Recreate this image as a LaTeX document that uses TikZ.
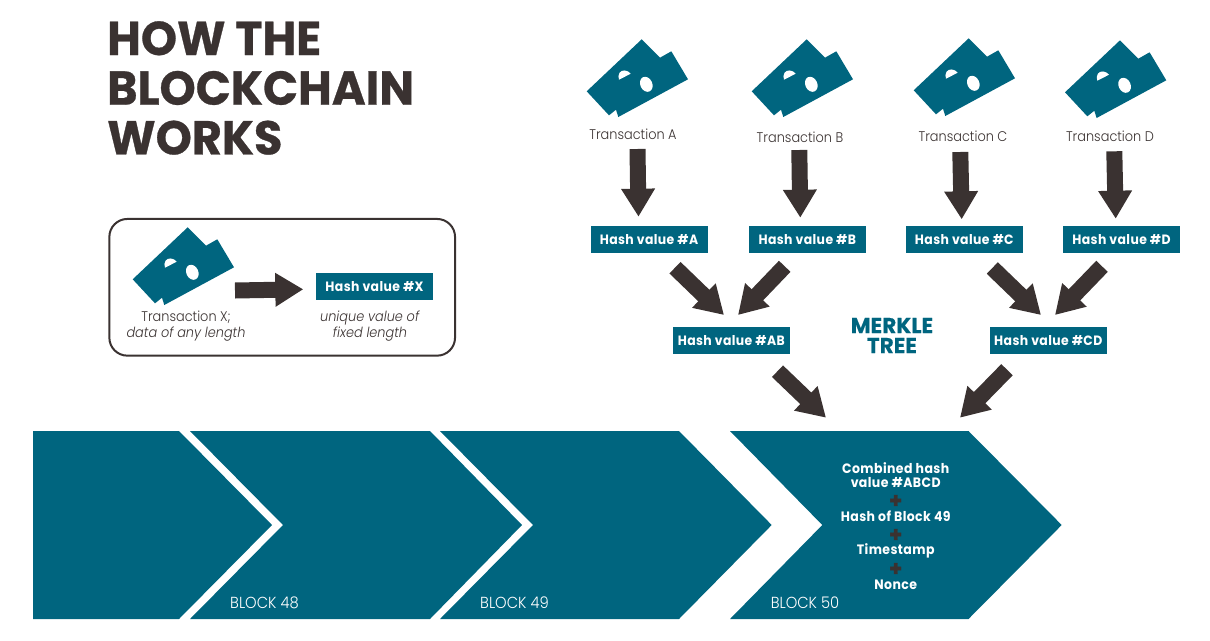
\documentclass[tikz,border=0pt]{standalone}
\usepackage{fontspec}
\usetikzlibrary{arrows.meta,calc}
\setmainfont{Poppins}[FakeStretch=0.92]
\newfontfamily\titlef{Poppins}[FakeStretch=0.97,FakeBold=0.6]
\newfontfamily\merklef{Poppins}[FakeStretch=1.0,FakeBold=0.4]
\newfontfamily\boldf{Poppins}[FakeStretch=0.92,LetterSpace=3]
\newfontfamily\plusf{Poppins}[FakeBold=1.5]
\newfontfamily\lightf{Poppins Light}[FakeStretch=0.92]
\definecolor{teal}{HTML}{00657F}
\definecolor{ink}{HTML}{3A3231}
\tikzset{
  x=1pt,y=-1pt,
  hashbox/.style={fill=teal,text=white,minimum width=117pt,minimum height=27pt,inner sep=0pt,text height=12pt,text depth=2pt,font=\fontsize{13.5}{15}\boldf\bfseries},
  label/.style={text=ink,inner sep=0pt,font=\fontsize{14}{16}\lightf,align=center},
  blockarrow/.style={draw=ink,line width=16pt,-{Triangle[length=28pt,width=32pt]}},
  blockshape/.style={fill=teal,draw=none},
  blocktext/.style={text=white,inner sep=0pt,font=\fontsize{13.6}{14}\boldf\bfseries,align=center},
  blockname/.style={text=white,inner sep=0pt,font=\fontsize{16}{16}\lightf},
  plus/.style={text=ink,inner sep=0pt,font=\fontsize{21}{21}\plusf\bfseries},
  wallet/.pic={
    \fill[teal] (55,-52) -- (73.3,-33.6) -- (84.6,-40) -- (101.3,-12) -- (31.6,25.7) -- (29.3,18.4) -- (22.3,24) -- (0,0) -- cycle;
    \fill[white] (32.3,-11.6) -- (44,-17.6) .. controls (41,-21.5) and (35,-22) .. (32.8,-18.5) .. controls (31.5,-16.5) and (31.5,-14) .. cycle;
    \fill[white,rotate around={25:(59.6,-7)}] (59.6,-7) ellipse[x radius=6,y radius=7.8];
  }
}
\begin{document}
\begin{tikzpicture}
\useasboundingbox (0,0) rectangle (1210,640);
% title
\node[anchor=north west,inner sep=0pt,text=ink,align=left,font=\fontsize{47.5}{49.7}\titlef\bfseries] (title) at (107,21) {HOW THE\\BLOCKCHAIN\\WORKS};
% legend
\node[draw=ink,line width=2pt,rounded corners=18pt,minimum width=345.7pt,minimum height=136.7pt,inner sep=0pt] (legend) at (282.2,287.3) {};
\pic at (132.7,279.3) {wallet};
\node[label] (tx) at (186,326.5) {Transaction X;\\\textit{data of any length}};
\node[hashbox] (hx) at (374.5,286.5) {Hash value \#X};
\node[label] (ux) at (370,326.5) {\textit{unique value of}\\\textit{fixed length}};
\coordinate (xs) at (235,290.5);
\draw[blockarrow] (xs) -- ($(hx.center)+(-71.2,2.8)$);
% blocks
\fill[blockshape] (33,431) -- (179,431) -- (272,525) -- (179,619) -- (33,619) -- cycle;
\fill[blockshape] (190,431) -- (430,431) -- (522,525) -- (430,619) -- (190,619) -- (283,525) -- cycle;
\fill[blockshape] (440,431) -- (679,431) -- (771.7,525) -- (679,619) -- (440,619) -- (533,525) -- cycle;
\fill[blockshape] (730,431) -- (968.5,431) -- (1061.7,525) -- (968.5,619) -- (730,619) -- (822.3,525) -- cycle;
\coordinate (b50) at (896,431);
\node[blockname] (n48) at (264.5,603) {BLOCK 48};
\node[blockname] (n49) at (514.5,603) {BLOCK 49};
\node[blockname] (n50) at (805,603) {BLOCK 50};
\node[blocktext] (c1) at (895.7,475) {Combined hash\\value \#ABCD};
\node[plus] (p1) at (895.7,501.5) {+};
\node[blocktext] (c2) at (895.7,516) {Hash of Block 49};
\node[plus] (p2) at (895.7,535.5) {+};
\node[blocktext] (c3) at (895.7,551) {Timestamp};
\node[plus] (p3) at (895.7,569.5) {+};
\node[blocktext] (c4) at (895.7,584.3) {Nonce};
% transactions
\pic at (586.7,91.3) {wallet};
\pic at (751.7,91.3) {wallet};
\pic at (913.7,90.3) {wallet};
\pic at (1065,92.3) {wallet};
\node[label] (ta) at (633,134) {Transaction A};
\node[label] (tb) at (800,137) {Transaction B};
\node[label] (tc) at (963,136) {Transaction C};
\node[label] (td) at (1110,136) {Transaction D};
\node[hashbox] (ha) at (649,239.5) {Hash value \#A};
\node[hashbox] (hb) at (807.3,239.5) {Hash value \#B};
\node[hashbox] (hc) at (964.3,239.5) {Hash value \#C};
\node[hashbox] (hd) at (1121.5,239.5) {Hash value \#D};
\node[hashbox] (hab) at (731.3,340.3) {Hash value \#AB};
\node[hashbox] (hcd) at (1048.3,340.3) {Hash value \#CD};
\node[text=teal,inner sep=0pt,align=center,font=\fontsize{21.5}{20}\merklef\bfseries] (mt) at (892,335.5) {MERKLE\\TREE};
% connectors
\draw[blockarrow] ($(ta.center)+(4.5,15)$) -- ($(ha.center)+(-10.5,-22.8)$);
\draw[blockarrow] ($(tb.center)+(-0.7,13)$) -- ($(hb.center)+(-7,-21.8)$);
\draw[blockarrow] ($(tc.center)+(-2.7,16)$) -- ($(hc.center)+(-2.6,-20.2)$);
\draw[blockarrow] ($(td.center)+(4.3,15.3)$) -- ($(hd.center)+(-5.8,-20.8)$);
\draw[blockarrow] ($(ha.center)+(26,28.2)$) -- ($(hab.center)+(-7.3,-25.3)$);
\draw[blockarrow] ($(hb.center)+(-22.6,26.8)$) -- ($(hab.center)+(6.7,-25.3)$);
\draw[blockarrow] ($(hc.center)+(28,28.5)$) -- ($(hcd.center)+(-7.3,-25.3)$);
\draw[blockarrow] ($(hd.center)+(-19.5,26.8)$) -- ($(hcd.center)+(6.7,-25.3)$);
\draw[blockarrow] ($(hab.center)+(46.2,30.9)$) -- ($(b50)+(-70,-13.3)$);
\draw[blockarrow] ($(hcd.center)+(-41.3,29.4)$) -- ($(b50)+(64,-13.3)$);
\end{tikzpicture}
\end{document}
